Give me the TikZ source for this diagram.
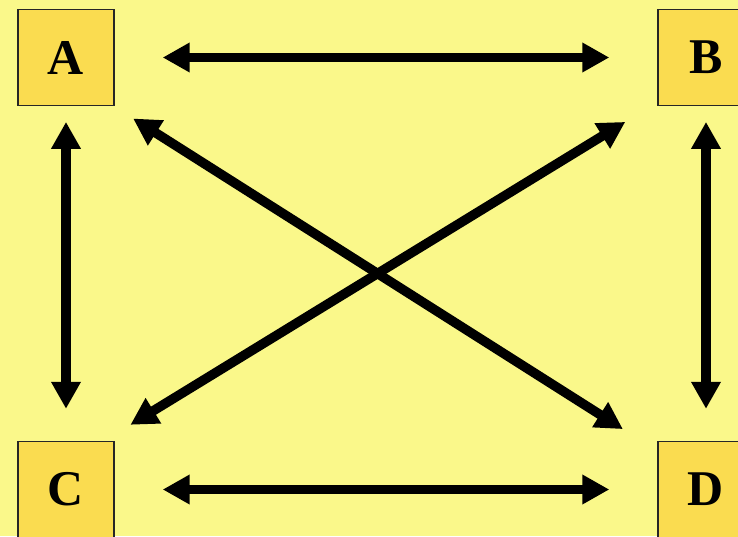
\documentclass[tikz,border=0pt]{standalone}
\usepackage{fontspec}
\setmainfont{Liberation Serif}
\usetikzlibrary{arrows.meta,calc}
\definecolor{bgyellow}{RGB}{250,248,138}
\definecolor{boxyellow}{RGB}{250,220,80}
\tikzset{
  letterbox/.style={draw=black!85, line width=1.4pt, fill=boxyellow, minimum width=96pt, minimum height=96pt, inner sep=0pt, font=\fontsize{50}{50}\selectfont\bfseries},
  biarrow/.style={line width=9.5pt, {Triangle[length=27pt,width=28pt]}-{Triangle[length=27pt,width=28pt]}}
}
\begin{document}
\begin{tikzpicture}[x=1pt,y=-1pt]
\useasboundingbox (0,0) rectangle (738,536);
\clip (0,0) rectangle (738,536);
\fill[bgyellow] (0,0) rectangle (738,536);
\node[letterbox] (A) at (66,57.5) {A};
\node[letterbox] (B) at (706,57.5) {B};
\node[letterbox] (C) at (66,489.5) {C};
\node[letterbox] (D) at (706,489.5) {D};
\draw[biarrow] ($(A.east)+(48,0)$) -- ($(B.west)+(-48,0)$);
\draw[biarrow] ($(C.east)+(48,0)$) -- ($(D.west)+(-48,0)$);
\draw[biarrow] ($(A.south)+(0,15.7)$) -- ($(C.north)+(0,-32)$);
\draw[biarrow] ($(B.south)+(0,15.7)$) -- ($(D.north)+(0,-32)$);
\draw[biarrow] ($(A.south east)+(18.4,12.3)$) -- ($(D.north west)+(-34.4,-11.7)$);
\draw[biarrow] ($(B.south west)+(-32,15.7)$) -- ($(C.north east)+(15.7,-16)$);
\end{tikzpicture}
\end{document}
